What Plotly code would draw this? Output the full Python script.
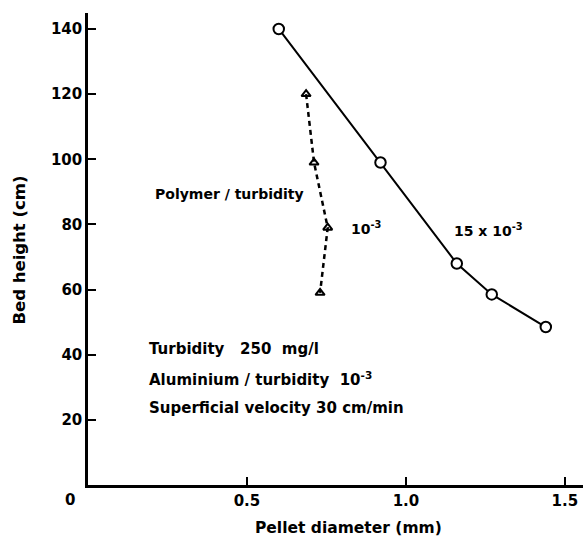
import plotly.graph_objects as go

# Bed height vs pellet diameter, two polymer/turbidity ratios
pellet_15e3 = [0.60, 0.92, 1.16, 1.27, 1.44]
height_15e3 = [140, 99, 68, 58.5, 48.5]

pellet_1e3 = [0.686, 0.711, 0.754, 0.730]
height_1e3 = [120, 99, 79, 59]

x_ticks = [0.5, 1.0, 1.5]
x_tick_text = ["0.5", "1.0", "1.5"]
y_ticks = [20, 40, 60, 80, 100, 120, 140]

FONT = "DejaVu Sans"
INK = "#000000"
SP = "&nbsp;"

fig = go.Figure()

fig.add_trace(go.Scatter(
    x=pellet_1e3, y=height_1e3, mode="lines+markers",
    line=dict(color=INK, width=2.5, dash="5px,4px"),
    marker=dict(symbol="triangle-up-open", size=8, color=INK,
                line=dict(color=INK, width=2)),
    showlegend=False, cliponaxis=False,
))

fig.add_trace(go.Scatter(
    x=pellet_15e3, y=height_15e3, mode="lines+markers",
    line=dict(color=INK, width=2),
    marker=dict(symbol="circle", size=10.5, color="white",
                line=dict(color=INK, width=2)),
    showlegend=False, cliponaxis=False,
))

def note(x, y, text, size=15, anchor="left"):
    fig.add_annotation(x=x, y=y, xref="x", yref="y",
                       text=text, showarrow=False, xanchor=anchor, yanchor="middle",
                       font=dict(family=FONT, size=size, color=INK, weight="bold"))

note(0.204, 89.3, "Polymer / turbidity", size=14)
note(0.820, 78.9, "10<sup>-3</sup>", size=14)
note(1.145, 78.3, "15 x 10<sup>-3</sup>", size=14)
note(0.186, 41.8, "Turbidity" + SP * 3 + "250" + SP * 2 + "mg/l")
note(0.186, 32.5, "Aluminium / turbidity" + SP * 2 + "10<sup>-3</sup>")
note(0.186, 23.6, "Superficial velocity 30 cm/min")

# shared origin label at the lower-left corner
fig.add_annotation(x=-0.036, y=-0.032, xref="paper", yref="paper", text="0",
                   showarrow=False, xanchor="center", yanchor="middle",
                   font=dict(family=FONT, size=15, color=INK, weight="bold"))

fig.add_annotation(x=0.527, y=-0.091, xref="paper", yref="paper",
                   text="Pellet diameter (mm)", showarrow=False,
                   xanchor="center", yanchor="middle",
                   font=dict(family=FONT, size=15.5, color=INK, weight="bold"))
fig.add_annotation(x=-0.139, y=0.497, xref="paper", yref="paper",
                   text="Bed height (cm)", showarrow=False, textangle=-90,
                   xanchor="center", yanchor="middle",
                   font=dict(family=FONT, size=16.5, color=INK, weight="bold"))

fig.update_xaxes(
    range=[0, 1.557], tickvals=x_ticks, ticktext=x_tick_text,
    ticks="inside", ticklen=8, tickwidth=2, tickcolor=INK,
    showline=True, linewidth=3, linecolor=INK,
    showgrid=False, zeroline=False, ticklabelstandoff=0,
    tickfont=dict(family=FONT, size=15, color=INK, weight="bold"),
)
fig.update_yaxes(
    range=[0, 144.9], tickvals=y_ticks,
    ticks="inside", ticklen=8, tickwidth=2, tickcolor=INK,
    showline=True, linewidth=2.5, linecolor=INK,
    showgrid=False, zeroline=False, ticklabelstandoff=0,
    tickfont=dict(family=FONT, size=15, color=INK, weight="bold"),
)

fig.update_layout(
    width=583, height=540,
    margin=dict(l=88, r=0, t=13, b=55),
    paper_bgcolor="white", plot_bgcolor="white",
)

fig.write_html("out.html")
